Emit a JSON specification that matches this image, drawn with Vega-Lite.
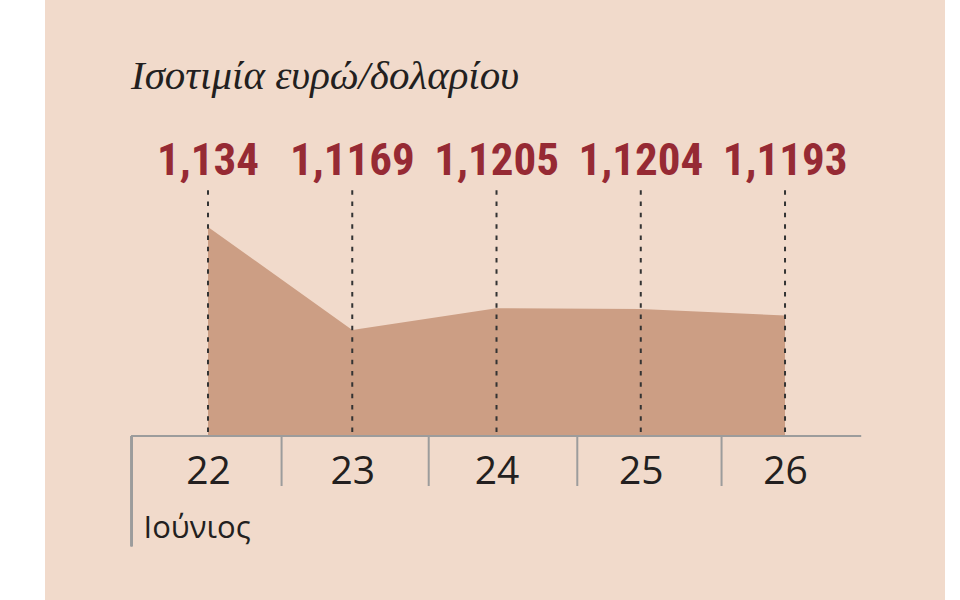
{
  "$schema": "https://vega.github.io/schema/vega-lite/v6.json",
  "width": 900,
  "height": 600,
  "autosize": {"type": "none"},
  "padding": {"left": 45, "right": 15, "top": 0, "bottom": 0},
  "background": "#ffffff",
  "view": {"fill": "#f1dacb", "stroke": null},
  "title": {
    "text": "Ισοτιμία ευρώ/δολαρίου",
    "anchor": "start",
    "frame": "group",
    "font": "Liberation Serif",
    "fontStyle": "italic",
    "fontWeight": "normal",
    "fontSize": 41,
    "color": "#231f20",
    "baseline": "alphabetic",
    "offset": 0,
    "dx": 86,
    "dy": 130
  },
  "datasets": {
    "rates": [
      {"day": 22, "rate": 1.134, "label": "1,134"},
      {"day": 23, "rate": 1.1169, "label": "1,1169"},
      {"day": 24, "rate": 1.1205, "label": "1,1205"},
      {"day": 25, "rate": 1.1204, "label": "1,1204"},
      {"day": 26, "rate": 1.1193, "label": "1,1193"}
    ],
    "separators": [
      {"sep": 22.51},
      {"sep": 23.53},
      {"sep": 24.56},
      {"sep": 25.56}
    ]
  },
  "data": {"name": "rates"},
  "layer": [
    {
      "mark": {"type": "area", "color": "#cc9e84", "interpolate": "linear"},
      "encoding": {
        "x": {
          "field": "day",
          "type": "quantitative",
          "scale": {"domain": [20.87, 27.109], "nice": false, "zero": false},
          "axis": {
            "values": [22, 23, 24, 25, 26],
            "format": "d",
            "offset": -164,
            "zindex": 1,
            "domain": false,
            "ticks": false,
            "grid": false,
            "labelFont": "Open Sans",
            "labelFontSize": 39,
            "labelColor": "#231f20",
            "labelBaseline": "alphabetic",
            "labelPadding": 47,
            "labelFlush": false,
            "labelOverlap": false,
            "title": "Ιούνιος",
            "titleFont": "Open Sans",
            "titleFontSize": 31,
            "titleFontWeight": "normal",
            "titleColor": "#231f20",
            "titleX": 98,
            "titleY": 101,
            "titleAlign": "left",
            "titleBaseline": "alphabetic",
            "titleAnchor": "start"
          }
        },
        "y": {
          "field": "rate",
          "type": "quantitative",
          "scale": {"domain": [1.07208, 1.17168], "nice": false, "zero": false},
          "axis": null
        },
        "y2": {"datum": 1.0993}
      }
    },
    {
      "mark": {"type": "rule", "color": "#333333", "strokeWidth": 2, "strokeDash": [4.5, 6.8]},
      "encoding": {
        "x": {"field": "day", "type": "quantitative"},
        "y": {"datum": 1.1401, "type": "quantitative"},
        "y2": {"datum": 1.0993}
      }
    },
    {
      "mark": {
        "type": "text",
        "font": "Roboto Condensed, Roboto",
        "fontWeight": "bold",
        "fontSize": 45,
        "color": "#962a34",
        "align": "center",
        "baseline": "alphabetic"
      },
      "encoding": {
        "x": {"field": "day", "type": "quantitative"},
        "y": {"datum": 1.14263, "type": "quantitative"},
        "text": {"field": "label"}
      }
    },
    {
      "data": {"name": "separators"},
      "mark": {"type": "rule", "color": "#9c9c9c", "strokeWidth": 2},
      "encoding": {
        "x": {"field": "sep", "type": "quantitative"},
        "y": {"datum": 1.0993, "type": "quantitative"},
        "y2": {"datum": 1.091}
      }
    },
    {
      "mark": {"type": "rule", "color": "#9c9c9c", "strokeWidth": 2},
      "encoding": {
        "x": {"datum": 21.47, "type": "quantitative"},
        "x2": {"datum": 26.527},
        "y": {"datum": 1.0993, "type": "quantitative"}
      }
    },
    {
      "mark": {"type": "rule", "color": "#9c9c9c", "strokeWidth": 2},
      "encoding": {
        "x": {"datum": 21.47, "type": "quantitative"},
        "y": {"datum": 1.0993, "type": "quantitative"},
        "y2": {"datum": 1.081}
      }
    }
  ]
}
